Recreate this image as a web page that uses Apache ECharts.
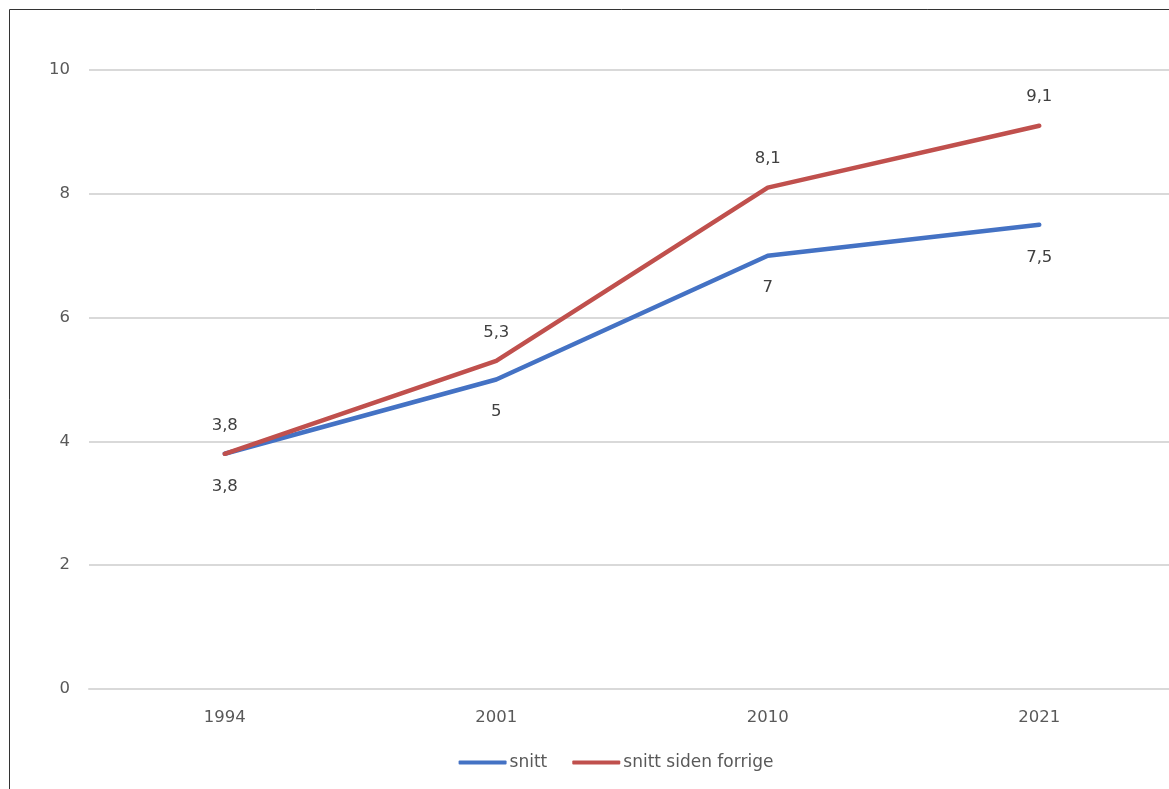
<!DOCTYPE html>
<html>
<head>
<meta charset="utf-8">
<script src="https://cdn.jsdelivr.net/npm/echarts@6/dist/echarts.min.js"></script>
<style>
  html, body { margin: 0; padding: 0; background: #fff; overflow: hidden; }
  #chart { width: 1232px; height: 789px; }
</style>
</head>
<body>
<div id="chart"></div>
<script>
// Survey years and the two averages
const years = ['1994', '2001', '2010', '2021'];
const snitt = [3.8, 5, 7, 7.5];
const snittSidenForrige = [3.8, 5.3, 8.1, 9.1];
const yTicks = { min: 0, max: 10, interval: 2 };

const textColor = '#595959';
const labelColor = '#404040';
const fontFamily = '"DejaVu Sans", sans-serif';

const fmt = p => String(p.value).replace('.', ',');

const chart = echarts.init(document.getElementById('chart'), null, { renderer: 'canvas' });
chart.setOption({
  animation: false,
  backgroundColor: '#fff',
  graphic: [{
    type: 'rect',
    left: 7, top: 7,
    shape: { width: 1300, height: 900 },
    style: { fill: 'none', stroke: '#333', lineWidth: 1 },
    silent: true, z: -1
  }],
  grid: { left: 89, top: 70, right: 57, height: 619, containLabel: false },
  legend: {
    bottom: 13,
    left: 'center',
    itemWidth: 48,
    itemHeight: 4,
    itemGap: 25,
    icon: 'roundRect',
    textStyle: { color: textColor, fontSize: 17, fontFamily: fontFamily, padding: [0, 0, 0, -2] },
    data: ['snitt', 'snitt siden forrige']
  },
  xAxis: {
    type: 'category',
    data: years,
    boundaryGap: true,
    axisLine: { lineStyle: { color: '#d9d9d9', width: 2 } },
    axisTick: { show: false },
    axisLabel: { color: textColor, fontSize: 16.5, fontFamily: fontFamily, margin: 20 }
  },
  yAxis: {
    type: 'value',
    min: yTicks.min, max: yTicks.max, interval: yTicks.interval,
    axisLine: { show: false },
    axisTick: { show: false },
    splitLine: { lineStyle: { color: '#d9d9d9', width: 2 } },
    axisLabel: { color: textColor, fontSize: 16.5, fontFamily: fontFamily, margin: 19 }
  },
  series: [
    {
      name: 'snitt',
      type: 'line',
      data: snitt,
      symbol: 'circle',
      symbolSize: 0,
      showSymbol: true,
      lineStyle: { color: '#4472C4', width: 4.5, cap: 'round', join: 'round' },
      itemStyle: { color: '#4472C4' },
      label: {
        show: true, position: 'bottom', distance: 24,
        color: labelColor, fontSize: 16.5, fontFamily: fontFamily,
        formatter: fmt
      },
      z: 2
    },
    {
      name: 'snitt siden forrige',
      type: 'line',
      data: snittSidenForrige,
      symbol: 'circle',
      symbolSize: 0,
      showSymbol: true,
      lineStyle: { color: '#C0504D', width: 4.5, cap: 'round', join: 'round' },
      itemStyle: { color: '#C0504D' },
      label: {
        show: true, position: 'top', distance: 20,
        color: labelColor, fontSize: 16.5, fontFamily: fontFamily,
        formatter: fmt
      },
      z: 3
    }
  ]
});
</script>
</body>
</html>
